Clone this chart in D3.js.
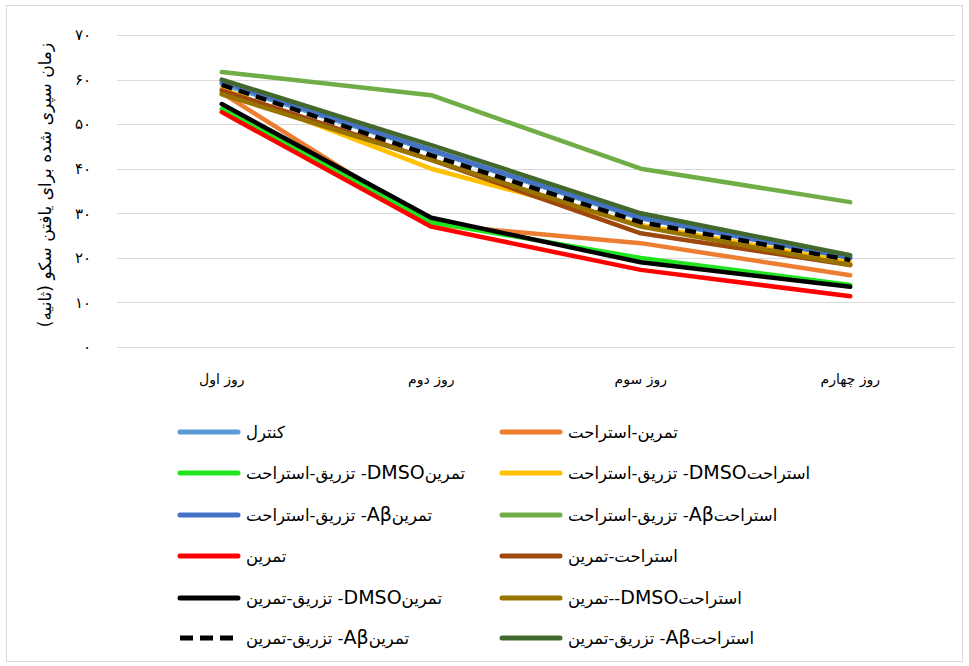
<!DOCTYPE html>
<html>
<head>
<meta charset="utf-8">
<script src="https://cdn.jsdelivr.net/npm/d3@7"></script>
<style>
  body { margin: 0; background: #fff; }
  svg text { font-family: "DejaVu Sans", sans-serif; fill: #000; }
</style>
</head>
<body>
<svg id="chart" width="969" height="666"></svg>
<script>
// Test days on the x axis
const days = ["روز اول", "روز دوم", "روز سوم", "روز چهارم"];

// Y ticks (seconds) and their Persian labels
const yTicks = [0, 10, 20, 30, 40, 50, 60, 70];
const yTickLabels = ["۰", "۱۰", "۲۰", "۳۰", "۴۰", "۵۰", "۶۰", "۷۰"];

// Group names, in legend order (row by row, left column first)
const groups = [
  "کنترل",
  "تمرین-استراحت",
  "تمرینDMSO- تزریق-استراحت",
  "استراحتDMSO- تزریق-استراحت",
  "تمرینAβ- تزریق-استراحت",
  "استراحتAβ- تزریق-استراحت",
  "تمرین",
  "استراحت-تمرین",
  "تمرینDMSO- تزریق-تمرین",
  "استراحتDMSO--تمرین",
  "تمرینAβ- تزریق-تمرین",
  "استراحتAβ- تزریق-تمرین"
];

// Escape latency per group, one value per day
const control      = [59.0, 44.0, 28.8, 20.0];
const exRest       = [57.0, 27.5, 23.3, 16.1];
const exDmsoRest   = [53.4, 28.0, 20.0, 13.9];
const restDmsoRest = [58.0, 40.0, 27.4, 19.0];
const exAbRest     = [59.5, 44.2, 29.1, 20.0];
const restAbRest   = [61.7, 56.5, 40.0, 32.5];
const exercise     = [52.7, 27.0, 17.3, 11.4];
const restEx       = [57.6, 42.0, 25.5, 18.4];
const exDmsoEx     = [54.5, 29.0, 19.0, 13.5];
const restDmsoEx   = [56.7, 42.0, 27.0, 18.4];
const exAbEx       = [58.8, 43.0, 28.0, 19.5];
const restAbEx     = [60.0, 45.3, 30.0, 20.6];

const seriesValues = [control, exRest, exDmsoRest, restDmsoRest, exAbRest, restAbRest,
                      exercise, restEx, exDmsoEx, restDmsoEx, exAbEx, restAbEx];

const colors = ["#5B9BD5", "#ED7D31", "#1FE51F", "#FFC000", "#4472C4", "#70AD47",
                "#FF0000", "#9E480E", "#000000", "#997300", "#000000", "#43682B"];
const dashes = [null, null, null, null, null, null, null, null, null, null, "11,7", null];

const series = groups.map((g, i) => ({ name: g, values: seriesValues[i], color: colors[i], dash: dashes[i] }));

// wrap a label in a right-to-left embedding so it reads as Persian text
const rtl = s => "\u202B" + s + "\u202C";

const svg = d3.select("#chart");

// chart frame
svg.append("rect")
  .attr("x", 6.5).attr("y", 5.5).attr("width", 956).attr("height", 656)
  .attr("fill", "#fff").attr("stroke", "#d9d9d9").attr("stroke-width", 1);

const plot = { left: 117, right: 955, top: 35, bottom: 347 };

const x = d3.scaleBand().domain(days).range([plot.left, plot.right]);
const y = d3.scaleLinear().domain([0, 70]).range([plot.bottom, plot.top]);

// horizontal gridlines
svg.append("g")
  .selectAll("line")
  .data(yTicks)
  .join("line")
  .attr("x1", plot.left).attr("x2", plot.right)
  .attr("y1", d => Math.round(y(d)) + 0.5).attr("y2", d => Math.round(y(d)) + 0.5)
  .attr("stroke", "#d9d9d9").attr("stroke-width", 1);

// y tick labels
svg.append("g")
  .selectAll("text")
  .data(yTicks)
  .join("text")
  .attr("x", 91).attr("y", d => y(d))
  .attr("dy", "0.35em")
  .attr("text-anchor", "end")
  .style("font-size", "15px")
  .text((d, i) => yTickLabels[i]);

// y axis title
svg.append("text")
  .attr("transform", `translate(45, 185) rotate(-90)`)
  .attr("text-anchor", "middle")
  .attr("dy", "0.35em")
  .style("font-size", "17px")
  .text(rtl("زمان سپری شده برای یافتن سکو (ثانیه)"));

// category labels
svg.append("g")
  .selectAll("text")
  .data(days)
  .join("text")
  .attr("x", d => x(d) + x.bandwidth() / 2)
  .attr("y", 384)
  .attr("text-anchor", "middle")
  .style("font-size", "14px")
  .text(d => rtl(d));

// series lines
const line = d3.line()
  .x((d, i) => x(days[i]) + x.bandwidth() / 2)
  .y(d => y(d));

svg.append("g")
  .selectAll("path")
  .data(series)
  .join("path")
  .attr("d", d => line(d.values))
  .attr("fill", "none")
  .attr("stroke", d => d.color)
  .attr("stroke-width", 4.5)
  .attr("stroke-linecap", d => d.dash ? "butt" : "round")
  .attr("stroke-linejoin", "round")
  .attr("stroke-dasharray", d => d.dash);

// legend: two columns, six rows
const legendRows = [432, 473, 515, 556, 598, 638];
const legendCols = [{ sx: 180 }, { sx: 502 }];

const legend = svg.append("g")
  .selectAll("g")
  .data(series)
  .join("g")
  .attr("transform", (d, i) => {
    const col = legendCols[i % 2];
    return `translate(${col.sx}, ${legendRows[Math.floor(i / 2)]})`;
  });

legend.append("line")
  .attr("x1", 0).attr("x2", 58)
  .attr("y1", 0).attr("y2", 0)
  .attr("stroke", d => d.color)
  .attr("stroke-width", 5)
  .attr("stroke-linecap", d => d.dash ? "butt" : "round")
  .attr("stroke-dasharray", d => d.dash ? "13,7" : null);

// legend labels: Latin parts (DMSO, Aβ) set a little larger than the Persian
legend.append("text")
  .attr("x", 66)
  .attr("y", 0)
  .attr("dy", "0.35em")
  .attr("text-anchor", "start")
  .style("font-size", "16.5px")
  .each(function (d) {
    const t = d3.select(this);
    const parts = rtl(d.name).split(/([A-Za-zβ]+)/).filter(p => p.length);
    parts.forEach(p => {
      const span = t.append("tspan").text(p);
      if (/[A-Za-zβ]/.test(p)) span.style("font-size", "19px");
    });
  });
</script>
</body>
</html>
